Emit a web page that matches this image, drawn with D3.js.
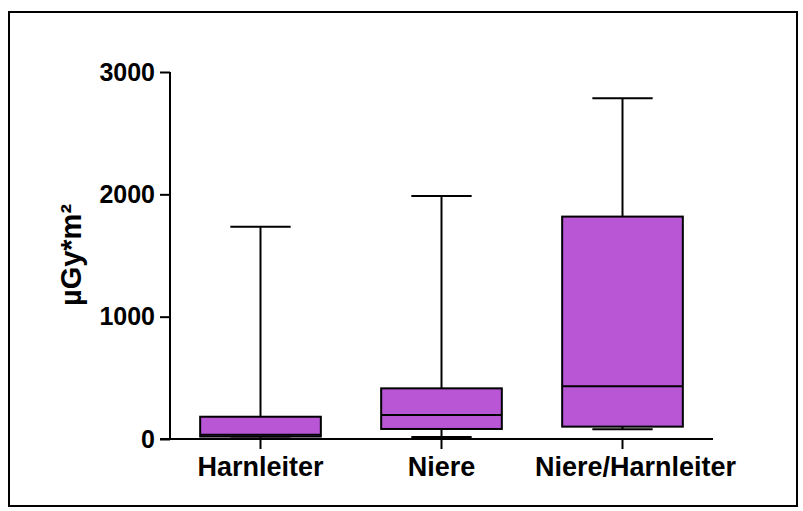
<!DOCTYPE html>
<html>
<head>
<meta charset="utf-8">
<script src="https://cdn.jsdelivr.net/npm/d3@7"></script>
<style>
  html, body { margin: 0; padding: 0; background: #fff; }
  svg { display: block; }
  text { font-family: Arial, "Liberation Sans", Helvetica, sans-serif; font-weight: bold; fill: #000; }
</style>
</head>
<body>
<svg id="chart" width="803" height="511"></svg>
<script>
// Dose-area product per procedure group (five-number summary)
const categories = ["Harnleiter", "Niere", "Niere/Harnleiter"];
const minValues    = [5, 16, 79];
const q1Values     = [20, 82, 101];
const medianValues = [35, 196, 431];
const q3Values     = [182, 414, 1818];
const maxValues    = [1736, 1987, 2786];
const yTicks = [0, 1000, 2000, 3000];
const yLabel = "µGy*m²";

const boxes = categories.map((c, i) => ({
  cat: c, min: minValues[i], q1: q1Values[i], med: medianValues[i], q3: q3Values[i], max: maxValues[i]
}));

const svg = d3.select("#chart");

// outer frame
svg.append("rect")
  .attr("x", 9).attr("y", 12).attr("width", 788).attr("height", 494)
  .attr("fill", "none").attr("stroke", "#000").attr("stroke-width", 2);

const x = d3.scaleBand().domain(categories).range([170, 713]).padding(0);
const y = d3.scaleLinear().domain([0, 3000]).range([439, 72]);

const fill = "#b856d6";
const bw = x.bandwidth() * 2 / 3;
const cw = x.bandwidth() / 3;
const cx = d => x(d.cat) + x.bandwidth() / 2;

const g = svg.append("g");

// whiskers
g.selectAll(".whisker-up").data(boxes).join("line")
  .attr("x1", cx).attr("x2", cx)
  .attr("y1", d => y(d.q3)).attr("y2", d => y(d.max))
  .attr("stroke", "#000").attr("stroke-width", 2);
g.selectAll(".whisker-down").data(boxes).join("line")
  .attr("x1", cx).attr("x2", cx)
  .attr("y1", d => y(d.q1)).attr("y2", d => y(d.min))
  .attr("stroke", "#000").attr("stroke-width", 2);
g.selectAll(".cap-top").data(boxes).join("line")
  .attr("x1", d => cx(d) - cw / 2).attr("x2", d => cx(d) + cw / 2)
  .attr("y1", d => y(d.max)).attr("y2", d => y(d.max))
  .attr("stroke", "#000").attr("stroke-width", 2);
g.selectAll(".cap-bottom").data(boxes).join("line")
  .attr("x1", d => cx(d) - cw / 2).attr("x2", d => cx(d) + cw / 2)
  .attr("y1", d => y(d.min)).attr("y2", d => y(d.min))
  .attr("stroke", "#000").attr("stroke-width", 2);

// boxes
g.selectAll(".box").data(boxes).join("rect")
  .attr("x", d => cx(d) - bw / 2).attr("width", bw)
  .attr("y", d => y(d.q3)).attr("height", d => y(d.q1) - y(d.q3))
  .attr("fill", fill).attr("stroke", "#000").attr("stroke-width", 2);

// medians
g.selectAll(".median").data(boxes).join("line")
  .attr("x1", d => cx(d) - bw / 2).attr("x2", d => cx(d) + bw / 2)
  .attr("y1", d => y(d.med)).attr("y2", d => y(d.med))
  .attr("stroke", "#000").attr("stroke-width", 2);

// y axis
const yAxis = svg.append("g").attr("transform", "translate(170,0)")
  .call(d3.axisLeft(y).tickValues(yTicks).tickFormat(d3.format("d")).tickSize(10).tickPadding(5));
yAxis.select(".domain").attr("stroke", "#000").attr("stroke-width", 2).attr("d", `M0,${y(3000)}V${y(0)}`);
yAxis.selectAll(".tick line").attr("stroke", "#000").attr("stroke-width", 2);
yAxis.selectAll(".tick text").style("font-size", "25px").style("font-weight", "bold")
  .attr("font-family", "Arial, 'Liberation Sans', sans-serif").attr("fill", "#000");

// x axis
const xAxis = svg.append("g").attr("transform", `translate(0,${y(0)})`)
  .call(d3.axisBottom(x).tickSize(10).tickPadding(8));
xAxis.select(".domain").attr("stroke", "#000").attr("stroke-width", 2).attr("d", "M160,0H713");
xAxis.selectAll(".tick line").attr("stroke", "#000").attr("stroke-width", 2);
xAxis.selectAll(".tick text").style("font-size", "27px").style("font-weight", "bold")
  .attr("font-family", "Arial, 'Liberation Sans', sans-serif").attr("fill", "#000")
  // the long last label sits a little to the right of its tick
  .attr("dx", (d, i) => i === categories.length - 1 ? 13 : 0);

// y axis title
svg.append("text")
  .attr("transform", "translate(81,255) rotate(-90)")
  .attr("text-anchor", "middle")
  .style("font-size", "29px")
  .text(yLabel);
</script>
</body>
</html>
